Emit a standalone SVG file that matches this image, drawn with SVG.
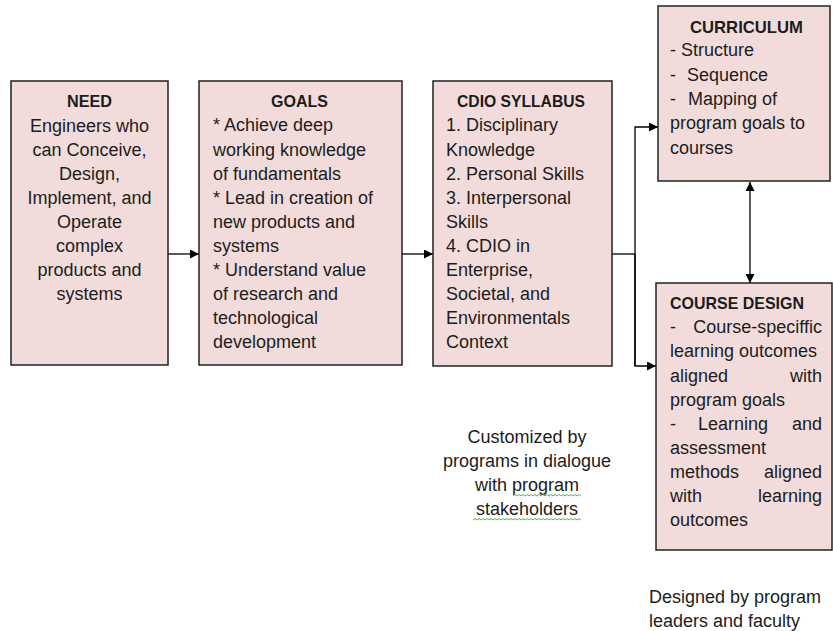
<svg xmlns="http://www.w3.org/2000/svg" width="833" height="631" viewBox="0 0 833 631">
<defs>
<marker id="ah" viewBox="0 0 10 10" refX="10" refY="5" markerWidth="9" markerHeight="9" markerUnits="userSpaceOnUse" orient="auto-start-reverse">
<path d="M0,0 L10,5 L0,10 z" fill="#000"/>
</marker>
<style>
.box{fill:#f2dcdb;stroke:#222;stroke-width:1.5}
.t{font-family:"Liberation Sans",Arial,sans-serif;font-size:18px;fill:#1c1c1c}
.b{font-weight:bold;font-size:17px}
.c{text-anchor:middle}
.e{text-anchor:end}
.ln{fill:none;stroke:#000;stroke-width:1.3}
.sq{fill:none;stroke:#5fae4a;stroke-width:1}
</style>
</defs>
<rect width="833" height="631" fill="#fff"/>
<g id="connectors">
<line class="ln" x1="168" y1="254" x2="199" y2="254" marker-end="url(#ah)"/>
<line class="ln" x1="402" y1="254" x2="433" y2="254" marker-end="url(#ah)"/>
<polyline class="ln" points="612,254 635,254"/>
<polyline class="ln" points="635,366 635,127 658,127" marker-end="url(#ah)"/>
<polyline class="ln" points="635,254 635,366 656,366" marker-end="url(#ah)"/>
<line class="ln" x1="750" y1="182" x2="750" y2="283" marker-start="url(#ah)" marker-end="url(#ah)"/>
</g>
<g id="need">
<rect class="box" x="11" y="81" width="157" height="284"/>
<text class="t b" x="67" y="107" textLength="45" lengthAdjust="spacingAndGlyphs">NEED</text>
<text class="t c" x="89.5"><tspan x="89.5" y="132">Engineers who</tspan><tspan x="89.5" y="156">can Conceive,</tspan><tspan x="89.5" y="180">Design,</tspan><tspan x="89.5" y="204">Implement, and</tspan><tspan x="89.5" y="228">Operate</tspan><tspan x="89.5" y="252">complex</tspan><tspan x="89.5" y="276">products and</tspan><tspan x="89.5" y="300">systems</tspan></text>
</g>
<g id="goals">
<rect class="box" x="199" y="81" width="203" height="284"/>
<text class="t b" x="271" y="107" textLength="57" lengthAdjust="spacingAndGlyphs">GOALS</text>
<text class="t"><tspan x="213" y="131">* Achieve deep</tspan><tspan x="213" y="156">working knowledge</tspan><tspan x="213" y="180">of fundamentals</tspan><tspan x="213" y="204">* Lead in creation of</tspan><tspan x="213" y="228">new products and</tspan><tspan x="213" y="252">systems</tspan><tspan x="213" y="276">* Understand value</tspan><tspan x="213" y="300">of research and</tspan><tspan x="213" y="324">technological</tspan><tspan x="213" y="348">development</tspan></text>
</g>
<g id="cdio">
<rect class="box" x="433" y="81" width="179" height="285"/>
<text class="t b" x="457" y="107" textLength="128" lengthAdjust="spacingAndGlyphs">CDIO SYLLABUS</text>
<text class="t"><tspan x="446" y="131">1. Disciplinary</tspan><tspan x="446" y="156">Knowledge</tspan><tspan x="446" y="180">2. Personal Skills</tspan><tspan x="446" y="204">3. Interpersonal</tspan><tspan x="446" y="228">Skills</tspan><tspan x="446" y="252">4. CDIO in</tspan><tspan x="446" y="276">Enterprise,</tspan><tspan x="446" y="300">Societal, and</tspan><tspan x="446" y="324">Environmentals</tspan><tspan x="446" y="348">Context</tspan></text>
</g>
<g id="curriculum">
<rect class="box" x="658" y="6" width="172" height="175"/>
<text class="t b" x="690" y="33" textLength="113" lengthAdjust="spacingAndGlyphs">CURRICULUM</text>
<text class="t"><tspan x="670" y="56">- Structure</tspan><tspan x="670" y="81">-</tspan><tspan x="687" y="81">Sequence</tspan><tspan x="670" y="105">-</tspan><tspan x="688" y="105">Mapping of</tspan><tspan x="670" y="129">program goals to</tspan><tspan x="670" y="154">courses</tspan></text>
</g>
<g id="course-design">
<rect class="box" x="656" y="283" width="176" height="267"/>
<text class="t b" x="670" y="309" textLength="134" lengthAdjust="spacingAndGlyphs">COURSE DESIGN</text>
<text class="t" x="670" y="333">-</text>
<text class="t e" x="822" y="333">Course-speciffic</text>
<text class="t" x="670" y="357">learning outcomes</text>
<text class="t" x="670" y="382">aligned</text>
<text class="t e" x="822" y="382">with</text>
<text class="t" x="670" y="406">program goals</text>
<text class="t" x="670" y="430">-</text>
<text class="t" x="698" y="430">Learning</text>
<text class="t e" x="822" y="430">and</text>
<text class="t" x="670" y="454">assessment</text>
<text class="t" x="670" y="478">methods</text>
<text class="t e" x="822" y="478">aligned</text>
<text class="t" x="670" y="502">with</text>
<text class="t e" x="822" y="502">learning</text>
<text class="t" x="670" y="526">outcomes</text>
</g>
<g id="note-customized">
<text class="t c"><tspan x="527" y="443">Customized by</tspan><tspan x="527" y="467">programs in dialogue</tspan><tspan x="527" y="491">with program</tspan><tspan x="527" y="515">stakeholders</tspan></text>
<path class="sq" d="M513,496 l2,-1.5 l2,1.5 l2,-1.5 l2,1.5 l2,-1.5 l2,1.5 l2,-1.5 l2,1.5 l2,-1.5 l2,1.5 l2,-1.5 l2,1.5 l2,-1.5 l2,1.5 l2,-1.5 l2,1.5 l2,-1.5 l2,1.5 l2,-1.5 l2,1.5 l2,-1.5 l2,1.5 l2,-1.5 l2,1.5 l2,-1.5 l2,1.5 l2,-1.5 l2,1.5 l2,-1.5 l2,1.5 l2,-1.5 l2,1.5 l2,-1.5 l2,1.5"/>
<path class="sq" d="M473,520 l2,-1.5 l2,1.5 l2,-1.5 l2,1.5 l2,-1.5 l2,1.5 l2,-1.5 l2,1.5 l2,-1.5 l2,1.5 l2,-1.5 l2,1.5 l2,-1.5 l2,1.5 l2,-1.5 l2,1.5 l2,-1.5 l2,1.5 l2,-1.5 l2,1.5 l2,-1.5 l2,1.5 l2,-1.5 l2,1.5 l2,-1.5 l2,1.5 l2,-1.5 l2,1.5 l2,-1.5 l2,1.5 l2,-1.5 l2,1.5 l2,-1.5 l2,1.5 l2,-1.5 l2,1.5 l2,-1.5 l2,1.5 l2,-1.5 l2,1.5 l2,-1.5 l2,1.5 l2,-1.5 l2,1.5 l2,-1.5 l2,1.5 l2,-1.5 l2,1.5 l2,-1.5 l2,1.5 l2,-1.5 l2,1.5 l2,-1.5 l2,1.5"/>
</g>
<g id="note-designed">
<text class="t"><tspan x="649" y="603">Designed by program</tspan><tspan x="649" y="627">leaders and faculty</tspan></text>
</g>
</svg>
